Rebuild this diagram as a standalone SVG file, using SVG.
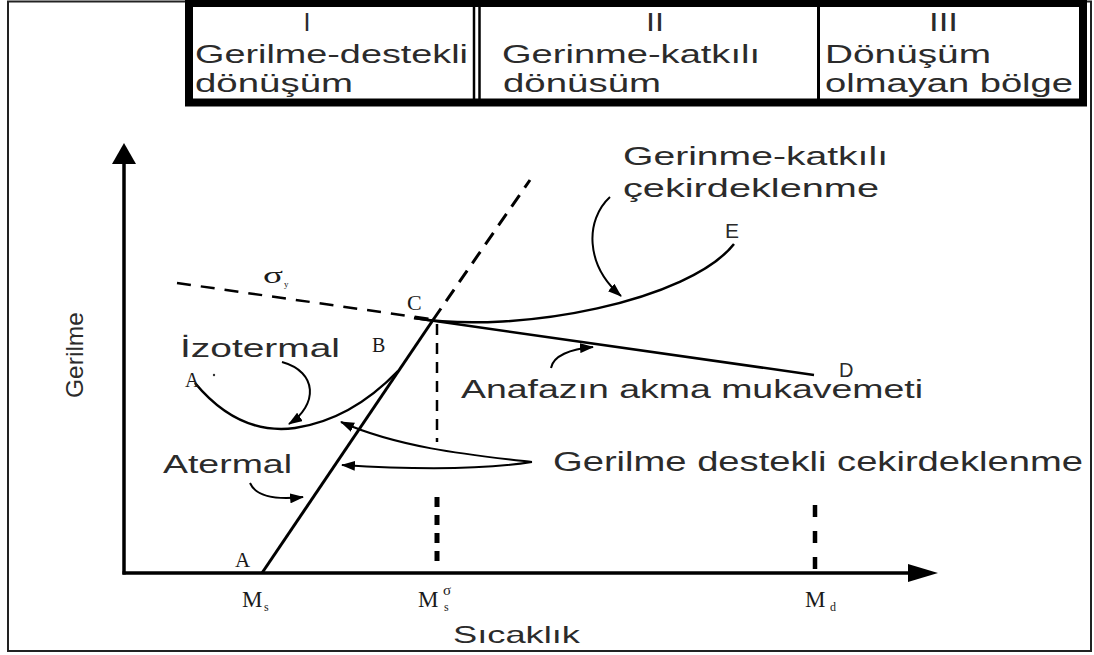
<svg xmlns="http://www.w3.org/2000/svg" width="1094" height="655" viewBox="0 0 1094 655">
<defs>
<style>
.s{font-family:"Liberation Sans",Arial,sans-serif;fill:#2b2b2b;}
.r{font-family:"Liberation Serif","Times New Roman",serif;fill:#1a1a1a;}
.ln{fill:none;stroke:#000;stroke-linecap:butt;}
</style>
<marker id="ah" viewBox="0 0 14 10" refX="13" refY="5" markerWidth="14" markerHeight="10" markerUnits="userSpaceOnUse" orient="auto">
<path d="M0,0 L14,5 L0,10 z" fill="#000"/>
</marker>
</defs>
<rect x="0" y="0" width="1094" height="655" fill="#fff"/>
<rect x="8" y="1.5" width="1083" height="649.5" fill="none" stroke="#222" stroke-width="2"/>

<g id="table">
<rect x="189" y="3" width="894" height="99.5" fill="#fff" stroke="#000" stroke-width="8"/>
<line x1="474" y1="5" x2="474" y2="100" stroke="#000" stroke-width="2.5"/>
<line x1="479.5" y1="5" x2="479.5" y2="100" stroke="#000" stroke-width="2.5"/>
<line x1="818.5" y1="5" x2="818.5" y2="100" stroke="#000" stroke-width="3"/>
<text class="s" x="307" y="31" font-size="25" text-anchor="middle">I</text>
<text class="s" x="195" y="63" font-size="25" textLength="273" lengthAdjust="spacingAndGlyphs">Gerilme-destekli</text>
<text class="s" x="195" y="92" font-size="25" textLength="158" lengthAdjust="spacingAndGlyphs">dönüşüm</text>
<text class="s" x="646" y="31" font-size="25" textLength="18" lengthAdjust="spacingAndGlyphs">II</text>
<text class="s" x="502" y="63" font-size="25" textLength="258" lengthAdjust="spacingAndGlyphs">Gerinme-katkılı</text>
<text class="s" x="503" y="92" font-size="25" textLength="158" lengthAdjust="spacingAndGlyphs">dönüsüm</text>
<text class="s" x="929" y="31" font-size="25" textLength="29" lengthAdjust="spacingAndGlyphs">III</text>
<text class="s" x="825" y="63" font-size="25" textLength="166" lengthAdjust="spacingAndGlyphs">Dönüşüm</text>
<text class="s" x="825" y="92" font-size="25" textLength="248" lengthAdjust="spacingAndGlyphs">olmayan bölge</text>
</g>

<g id="axes">
<line class="ln" x1="124" y1="574.5" x2="124" y2="158" stroke-width="3.5"/>
<polygon points="124,143 112,164 136,164" fill="#000"/>
<line class="ln" x1="122.5" y1="573" x2="912" y2="573" stroke-width="3.5"/>
<polygon points="938,573 908,564 908,582" fill="#000"/>
<text class="s" transform="translate(83,398) rotate(-90)" font-size="24" textLength="86" lengthAdjust="spacingAndGlyphs">Gerilme</text>
<text class="s" x="453" y="643" font-size="24" textLength="127" lengthAdjust="spacingAndGlyphs">Sıcaklık</text>
<text class="r" x="242" y="607" font-size="23">M</text>
<text class="r" x="264" y="611" font-size="12">s</text>
<text class="r" x="418" y="607" font-size="23">M</text>
<text class="r" x="444" y="611" font-size="12">s</text>
<text class="r" x="443" y="595" font-size="15">σ</text>
<text class="r" x="805" y="607" font-size="23">M</text>
<text class="r" x="830" y="611" font-size="12">d</text>
</g>

<g id="connectors">
<line class="ln" x1="437" y1="324" x2="437" y2="442" stroke-width="2.5" stroke-dasharray="11 8"/>
<line class="ln" x1="437" y1="497" x2="437" y2="562" stroke-width="5" stroke-dasharray="10 8"/>
<line class="ln" x1="815" y1="505" x2="815" y2="572" stroke-width="4.5" stroke-dasharray="12 14"/>
<line class="ln" x1="177" y1="283" x2="430" y2="319" stroke-width="2.5" stroke-dasharray="14 10"/>
<line class="ln" x1="433" y1="320" x2="530" y2="180" stroke-width="3" stroke-dasharray="14 9"/>
<line class="ln" x1="262" y1="573" x2="433" y2="320" stroke-width="3"/>
<line class="ln" x1="414" y1="318" x2="814" y2="375" stroke-width="2.5"/>
<path class="ln" d="M414,318 C520,335 690,300 734,244" stroke-width="2.5"/>
<path class="ln" d="M195,383 C230,425 265,432 295,428 C335,422 370,400 398,371" stroke-width="2.5"/>
<path class="ln" d="M282,362 C318,372 318,405 289,424" stroke-width="2" marker-end="url(#ah)"/>
<path class="ln" d="M250,483 C256,497 275,500 303,497" stroke-width="2" marker-end="url(#ah)"/>
<path class="ln" d="M532,462 C470,455 400,448 341,422" stroke-width="2" marker-end="url(#ah)"/>
<path class="ln" d="M532,462 C480,470 420,470 342,465" stroke-width="2" marker-end="url(#ah)"/>
<path class="ln" d="M610,197 C585,220 585,265 621,296" stroke-width="2" marker-end="url(#ah)"/>
<path class="ln" d="M551,368 C553,356 570,349 593,347" stroke-width="2" marker-end="url(#ah)"/>
</g>

<g id="labels">
<text class="r" x="263" y="283" font-size="24" textLength="20" lengthAdjust="spacingAndGlyphs">σ</text>
<text class="r" x="284" y="287" font-size="9">y</text>
<text class="r" x="407" y="310" font-size="22">C</text>
<text class="r" x="372" y="352" font-size="20">B</text>
<text class="r" x="185" y="387" font-size="20">A</text>
<circle cx="214" cy="375" r="1.2" fill="#333"/>
<text class="r" x="235" y="567" font-size="21">A</text>
<text class="s" x="725" y="238" font-size="21">E</text>
<text class="s" x="839" y="377" font-size="20">D</text>
<text class="s" x="180" y="357" font-size="25" textLength="160" lengthAdjust="spacingAndGlyphs">İzotermal</text>
<text class="s" x="163" y="473" font-size="25" textLength="129" lengthAdjust="spacingAndGlyphs">Atermal</text>
<text class="s" x="553" y="471" font-size="27" textLength="530" lengthAdjust="spacingAndGlyphs">Gerilme destekli cekirdeklenme</text>
<text class="s" x="461" y="398" font-size="25" textLength="462" lengthAdjust="spacingAndGlyphs">Anafazın akma mukavemeti</text>
<text class="s" x="623" y="165" font-size="25" textLength="265" lengthAdjust="spacingAndGlyphs">Gerinme-katkılı</text>
<text class="s" x="623" y="197" font-size="25" textLength="256" lengthAdjust="spacingAndGlyphs">çekirdeklenme</text>
</g>
</svg>
